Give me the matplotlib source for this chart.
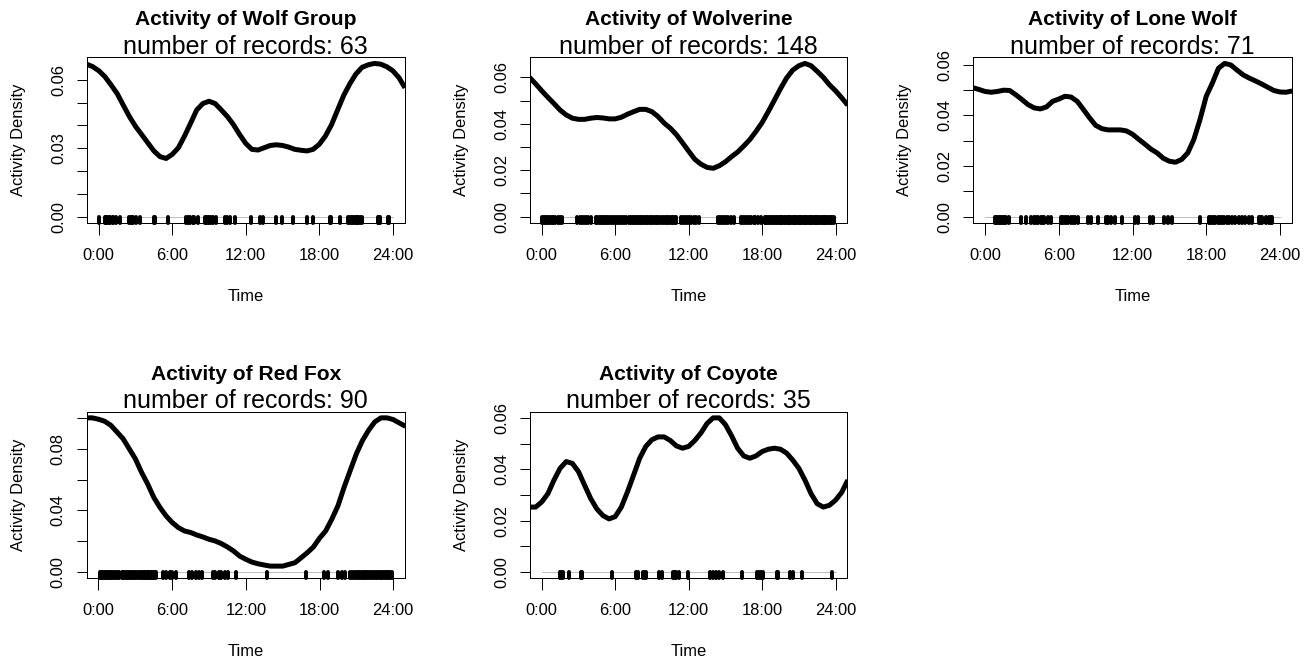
import numpy as np
import matplotlib
matplotlib.use("Agg")
import matplotlib.pyplot as plt

plt.rcParams['font.family'] = ['Liberation Sans', 'DejaVu Sans']

# ---------------- data ----------------
species = ["Wolf Group", "Wolverine", "Lone Wolf", "Red Fox", "Coyote"]
n_records = [63, 148, 71, 90, 35]

# density curves sampled every half hour from -1:00 to 25:00
curve_hours = np.arange(-1.0, 25.01, 0.5)

dens_wolf_group = [0.0669, 0.0658, 0.0640,
                   0.0614, 0.0578, 0.0540, 0.0489, 0.0439, 0.0396, 0.0360, 0.0324, 0.0288, 0.0263,
                   0.0255, 0.0273, 0.0302, 0.0353, 0.0410, 0.0468, 0.0496, 0.0506, 0.0496, 0.0468,
                   0.0439, 0.0403, 0.0360, 0.0321, 0.0295, 0.0292, 0.0302, 0.0312, 0.0315, 0.0312,
                   0.0305, 0.0295, 0.0291, 0.0288, 0.0295, 0.0317, 0.0353, 0.0403, 0.0468, 0.0532,
                   0.0583, 0.0626, 0.0655, 0.0666, 0.0672, 0.0669, 0.0658, 0.0640, 0.0610, 0.0565]
dens_wolverine = [0.0600, 0.0572, 0.0542,
                  0.0514, 0.0487, 0.0459, 0.0438, 0.0424, 0.0419, 0.0419, 0.0424, 0.0427, 0.0425,
                  0.0421, 0.0421, 0.0428, 0.0441, 0.0452, 0.0462, 0.0462, 0.0452, 0.0431, 0.0403,
                  0.0381, 0.0353, 0.0318, 0.0282, 0.0247, 0.0226, 0.0212, 0.0208, 0.0219, 0.0236,
                  0.0258, 0.0278, 0.0304, 0.0332, 0.0367, 0.0405, 0.0452, 0.0501, 0.0551, 0.0597,
                  0.0631, 0.0650, 0.0660, 0.0650, 0.0626, 0.0600, 0.0568, 0.0542, 0.0512, 0.0480]
dens_lone_wolf = [0.0510, 0.0503, 0.0495,
                  0.0492, 0.0495, 0.0500, 0.0499, 0.0482, 0.0463, 0.0443, 0.0430, 0.0426, 0.0434,
                  0.0456, 0.0465, 0.0476, 0.0473, 0.0456, 0.0424, 0.0391, 0.0361, 0.0348, 0.0343,
                  0.0343, 0.0343, 0.0339, 0.0326, 0.0306, 0.0287, 0.0267, 0.0252, 0.0231, 0.0219,
                  0.0215, 0.0226, 0.0252, 0.0306, 0.0385, 0.0476, 0.0528, 0.0587, 0.0606, 0.0600,
                  0.0580, 0.0561, 0.0548, 0.0537, 0.0525, 0.0512, 0.0499, 0.0493, 0.0492, 0.0497]
dens_red_fox = [0.1000, 0.1000, 0.0991,
                0.0978, 0.0952, 0.0909, 0.0865, 0.0800, 0.0735, 0.0648, 0.0572, 0.0485, 0.0420,
                0.0365, 0.0322, 0.0289, 0.0267, 0.0257, 0.0241, 0.0228, 0.0213, 0.0202, 0.0185,
                0.0163, 0.0137, 0.0104, 0.0083, 0.0065, 0.0054, 0.0046, 0.0039, 0.0039, 0.0039,
                0.0050, 0.0061, 0.0093, 0.0126, 0.0163, 0.0220, 0.0267, 0.0343, 0.0430, 0.0550,
                0.0659, 0.0767, 0.0854, 0.0920, 0.0974, 0.1000, 0.1000, 0.0989, 0.0967, 0.0945]
dens_coyote = [0.0253, 0.0253, 0.0273,
               0.0305, 0.0358, 0.0404, 0.0430, 0.0423, 0.0391, 0.0338, 0.0286, 0.0246, 0.0220,
               0.0207, 0.0216, 0.0253, 0.0312, 0.0377, 0.0443, 0.0489, 0.0515, 0.0526, 0.0526,
               0.0512, 0.0491, 0.0482, 0.0489, 0.0512, 0.0541, 0.0578, 0.0600, 0.0600, 0.0574,
               0.0531, 0.0482, 0.0452, 0.0443, 0.0452, 0.0469, 0.0478, 0.0482, 0.0478, 0.0463,
               0.0436, 0.0404, 0.0358, 0.0305, 0.0266, 0.0253, 0.0260, 0.0280, 0.0310, 0.0358]

# record times (hours) shown as rug
rug_wolf_group = [0.05, 0.5, 0.6, 0.7, 0.85, 0.9, 1.15, 1.2, 1.42, 1.75, 2.5, 2.6, 2.7, 2.78, 3.05,
                  3.33, 4.55, 4.6, 5.64, 7.14, 7.3, 7.42, 7.69, 7.8, 8.1, 8.64, 8.75, 8.92, 9.0,
                  9.19, 9.3, 9.54, 10.33, 10.5, 10.69, 11.1, 12.46, 13.14, 13.42, 14.46, 15.0,
                  15.87, 16.96, 17.5, 18.87, 18.95, 19.69, 20.37, 20.5, 20.64, 20.75, 20.91, 21.0,
                  21.1, 21.19, 21.3, 21.46, 22.8, 22.85, 22.9, 22.96, 23.6, 23.72]
rug_wolverine = [0.05, 0.15, 0.3, 0.4, 0.55, 0.7, 0.8, 0.95, 1.1, 1.3, 1.45, 1.65,
                 2.9, 3.1, 3.25, 3.45, 3.6, 3.8, 4.0,
                 4.4, 4.5, 4.65, 4.8, 4.9, 5.05, 5.2, 5.3, 5.45, 5.6, 5.75, 5.9, 6.05, 6.2, 6.4,
                 6.55, 6.7, 6.9,
                 7.1, 7.2, 7.35, 7.45, 7.6, 7.7, 7.85, 7.95, 8.1, 8.2, 8.35, 8.5, 8.6, 8.75, 8.9,
                 9.0, 9.15, 9.3, 9.45, 9.6, 9.75, 9.9, 10.05, 10.2, 10.3, 10.45, 10.6, 10.7,
                 10.85, 11.0,
                 11.4, 11.55, 11.7, 11.9, 12.05, 12.2, 12.4, 12.6, 12.85,
                 14.4, 14.55, 14.7, 14.9, 15.05, 15.25, 15.45, 15.7,
                 16.3, 16.45, 16.6, 16.8, 16.95, 17.1, 17.3, 17.45, 17.65, 17.9,
                 18.2, 18.3, 18.4, 18.55, 18.65, 18.75, 18.9, 19.0, 19.1, 19.2, 19.35, 19.45,
                 19.55, 19.65, 19.8, 19.9, 20.0, 20.1, 20.2, 20.3, 20.4, 20.5, 20.6, 20.7, 20.8,
                 20.9, 21.0, 21.1, 21.2, 21.3, 21.4, 21.5, 21.6, 21.7, 21.8, 21.9, 22.0, 22.1,
                 22.2, 22.3, 22.4, 22.5, 22.6, 22.7, 22.8, 22.95, 23.05, 23.15, 23.25, 23.4,
                 23.5, 23.6, 23.75, 23.9]
rug_lone_wolf = [0.82, 0.9, 1.0, 1.1, 1.2, 1.3, 1.42, 1.55, 1.69, 1.96,
                 2.92, 3.33, 3.74, 4.0, 4.15, 4.28, 4.55, 4.7, 4.83, 5.1, 5.37,
                 6.19, 6.3, 6.46, 6.6, 6.74, 7.0, 7.15, 7.28, 7.55,
                 8.37, 8.64, 9.19, 9.87, 10.0, 10.28, 10.55, 11.18,
                 12.19, 12.46, 13.42, 13.69, 14.6, 14.9, 15.2, 17.5,
                 18.19, 18.3, 18.46, 18.6, 18.73, 19.0, 19.15, 19.28, 19.45, 19.69, 19.85, 20.1,
                 20.37, 20.64, 20.92, 21.19, 21.46, 21.73,
                 22.28, 22.4, 22.55, 22.83, 23.1, 23.25, 23.37]
rug_red_fox = [0.1, 0.2, 0.3, 0.4, 0.5, 0.6, 0.7, 0.8, 0.95, 1.05, 1.15, 1.3, 1.4, 1.55, 1.65,
               1.9, 2.0, 2.1, 2.2, 2.35, 2.45, 2.55, 2.7, 2.8, 2.95, 3.05, 3.2, 3.35, 3.45, 3.6,
               3.7, 3.8, 3.95, 4.05, 4.15, 4.25, 4.35, 4.45, 4.55, 4.65,
               5.25, 5.5, 5.8, 6.0, 6.3,
               7.4, 7.6, 7.9, 8.15, 8.4,
               9.3, 9.5, 9.8, 10.0, 10.3, 10.55,
               11.2, 13.75, 16.9, 18.4, 18.7,
               19.5, 19.8, 20.05,
               20.5, 20.65, 20.8, 20.95, 21.1, 21.25, 21.35, 21.5, 21.65, 21.8, 21.9, 22.05,
               22.2, 22.3, 22.45, 22.6, 22.7, 22.85, 23.0, 23.1, 23.25, 23.4, 23.5, 23.6,
               23.75, 23.9]
rug_coyote = [1.47, 1.6, 1.75, 2.24, 3.19, 3.3, 5.73, 7.69, 7.9, 8.24, 8.35, 8.51, 9.6, 9.82,
              10.74, 10.85, 10.96, 11.24, 11.92, 13.74, 14.02, 14.24, 14.51, 14.8, 16.36,
              17.56, 17.78, 17.9, 18.05, 19.2, 19.3, 20.24, 20.51, 21.27, 23.73]

densities = [dens_wolf_group, dens_wolverine, dens_lone_wolf, dens_red_fox, dens_coyote]
rugs = [rug_wolf_group, rug_wolverine, rug_lone_wolf, rug_red_fox, rug_coyote]

x_ticks = [0, 6, 12, 18, 24]
x_tick_labels = ["0:00", "6:00", "12:00", "18:00", "24:00"]
y_ticks = [[0, .01, .02, .03, .04, .05, .06],
           [0, .01, .02, .03, .04, .05, .06],
           [0, .01, .02, .03, .04, .05, .06],
           [0, .02, .04, .06, .08, .10],
           [0, .01, .02, .03, .04, .05, .06]]
y_labelled = [[0, .03, .06],
              [0, .02, .04, .06],
              [0, .02, .04, .06],
              [0, .04, .08],
              [0, .02, .04, .06]]

# ---------------- layout (pixels) ----------------
W, H = 1312, 661
DPI = 72
boxes = [(87.0, 404.5, 57.3, 222.7),
         (530.0, 847.3, 57.3, 222.7),
         (973.3, 1291.7, 57.3, 222.7),
         (86.7, 405.0, 411.7, 578.3),
         (530.0, 847.3, 411.7, 578.3)]

fig = plt.figure(figsize=(W / DPI, H / DPI), dpi=DPI)

for i in range(5):
    l, r, t, b = boxes[i]
    ax = fig.add_axes([l / W, 1 - b / H, (r - l) / W, (b - t) / H])
    vals = densities[i]
    ymax = max(vals)
    ax.set_xlim(-0.04 * 24, 24 + 0.04 * 24)
    ax.set_ylim(-0.04 * ymax, ymax * 1.04)

    ax.plot([0, 24], [0, 0], color='#BEBEBE', lw=1.0, zorder=1)
    ax.plot(curve_hours, vals, color='black', lw=5, solid_joinstyle='round',
            solid_capstyle='butt', zorder=3)
    rug = ax.vlines(rugs[i], 0, 0.035, transform=ax.get_xaxis_transform(), colors='black',
                    linewidth=4.0, clip_on=False, zorder=4)
    rug.set_capstyle('round')

    ax.set_xticks(x_ticks)
    ax.set_xticklabels(x_tick_labels)
    ax.set_yticks(y_ticks[i])
    labs = []
    for v in y_ticks[i]:
        if any(abs(v - u) < 1e-9 for u in y_labelled[i]):
            labs.append(f"{v:.2f}")
        else:
            labs.append("")
    ax.set_yticklabels(labs, rotation=90, va='center')
    ax.tick_params(axis='x', length=12, width=1, pad=13, labelsize=16.5, colors='black')
    ax.tick_params(axis='y', length=10, width=1, pad=11, labelsize=16.5, colors='black')
    for s in ax.spines.values():
        s.set_linewidth(1.0)
        s.set_color('black')

    ax.annotate("Activity of " + species[i], xy=(0.5, 1), xycoords='axes fraction',
                xytext=(0, 32), textcoords='offset pixels', ha='center', va='baseline',
                fontsize=21, fontweight='bold')
    ax.annotate(f"number of records: {n_records[i]}", xy=(0.5, 1), xycoords='axes fraction',
                xytext=(0, 3.5), textcoords='offset pixels', ha='center', va='baseline',
                fontsize=25)
    ax.annotate("Time", xy=(0.5, 0), xycoords='axes fraction', xytext=(0, -78),
                textcoords='offset pixels', ha='center', va='baseline', fontsize=16.5)
    ax.annotate("Activity Density", xy=(0, 0.5), xycoords='axes fraction', xytext=(-64, 0),
                textcoords='offset pixels', ha='center', va='baseline', rotation=90,
                rotation_mode='anchor', fontsize=16.5)

fig.savefig("out.png", dpi=DPI)
